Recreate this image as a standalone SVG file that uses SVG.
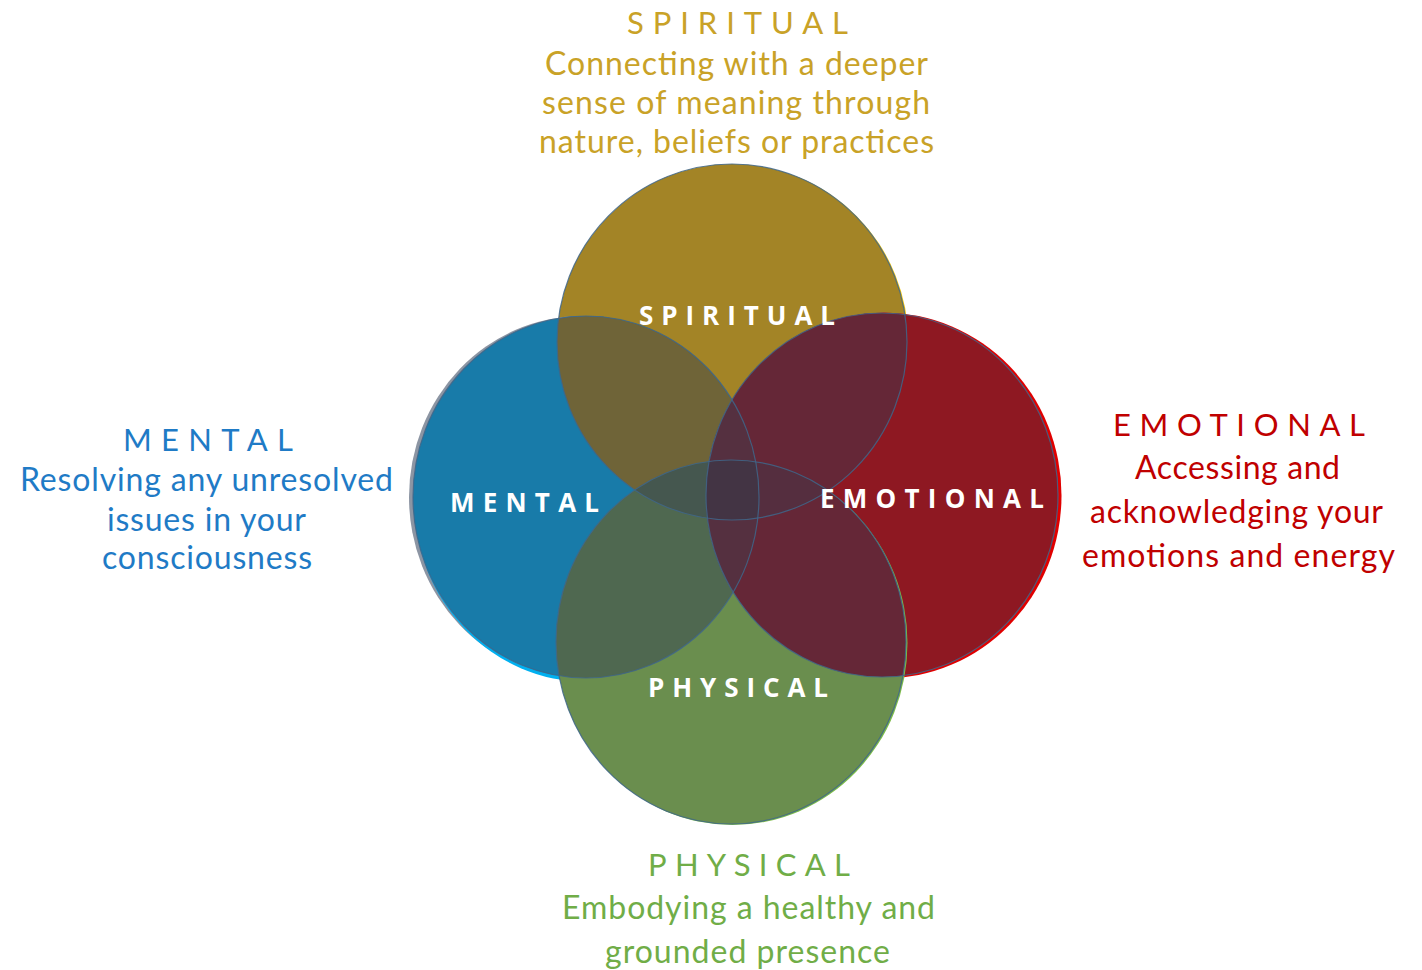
<svg xmlns="http://www.w3.org/2000/svg" width="1422" height="970" viewBox="0 0 1422 970">
  <style>
    .head { font-family: Lato, "Liberation Sans", sans-serif; font-size: 31px; font-weight: 400; }
    .body { font-family: Lato, "Liberation Sans", sans-serif; font-size: 32px; font-weight: 400; }
    .inner { font-family: "Open Sans", "Liberation Sans", sans-serif; font-size: 26px; font-weight: 700; fill: #ffffff; }
    .gold { fill: #C9A227; }
    .blue { fill: #1F7BC6; }
    .red { fill: #C00000; }
    .green { fill: #70AD47; }
    .rim { fill: none; stroke: #3F6689; stroke-width: 1.2; stroke-opacity: 0.85; }
  </style>
  <defs>
    <ellipse id="eS" cx="732" cy="342" rx="175" ry="178"/>
    <ellipse id="eM" cx="586" cy="497" rx="173" ry="181"/>
    <ellipse id="eE" cx="882" cy="495" rx="176" ry="182"/>
    <ellipse id="eP" cx="731" cy="642" rx="175" ry="182"/>
    <clipPath id="cS"><use href="#eS"/></clipPath>
    <clipPath id="cM"><use href="#eM"/></clipPath>
    <clipPath id="cE"><use href="#eE"/></clipPath>
    <clipPath id="cP"><use href="#eP"/></clipPath>
    <linearGradient id="topRule" x1="0" y1="0" x2="1" y2="0">
      <stop offset="0" stop-color="#2F8A3A"/>
      <stop offset="0.5" stop-color="#4CAF50"/>
      <stop offset="1" stop-color="#2F7D3A"/>
    </linearGradient>
  </defs>

  <!-- rule along the top edge -->
  <line x1="5" y1="1.5" x2="1422" y2="1.5" stroke="url(#topRule)" stroke-width="2"/>

  <!-- base circles with their coloured rims -->
  <g id="node-spiritual">
    <ellipse cx="733.5" cy="342.5" rx="175" ry="178" fill="#F2C200"/>
    <use href="#eS" fill="#A38426"/>
  </g>
  <g id="node-mental">
    <ellipse cx="582" cy="497" rx="173" ry="181" fill="#8C95A3"/>
    <ellipse cx="587" cy="501" rx="173" ry="181" fill="#00B0F0"/>
    <use href="#eM" fill="#187BA9"/>
  </g>
  <g id="node-emotional">
    <ellipse cx="884" cy="495.5" rx="177.5" ry="183" fill="#E00000"/>
    <use href="#eE" fill="#8E1822"/>
  </g>
  <g id="node-physical">
    <ellipse cx="732.5" cy="643" rx="175" ry="182" fill="#7CBB48"/>
    <use href="#eP" fill="#6A8E4E"/>
  </g>

  <!-- overlap regions -->
  <g id="overlaps">
    <use href="#eM" fill="#6F6438" clip-path="url(#cS)"/>
    <use href="#eE" fill="#652737" clip-path="url(#cS)"/>
    <use href="#eP" fill="#4F6850" clip-path="url(#cM)"/>
    <use href="#eP" fill="#652737" clip-path="url(#cE)"/>
    <use href="#eE" fill="#553040" clip-path="url(#cM)"/>
    <g clip-path="url(#cS)"><use href="#eP" fill="#45574F" clip-path="url(#cM)"/></g>
    <g clip-path="url(#cS)"><use href="#eP" fill="#552E3F" clip-path="url(#cE)"/></g>
    <g clip-path="url(#cM)"><use href="#eE" fill="#553040" clip-path="url(#cS)"/></g>
    <g clip-path="url(#cM)"><use href="#eE" fill="#553040" clip-path="url(#cP)"/></g>
    <g clip-path="url(#cS)"><g clip-path="url(#cM)"><use href="#eE" fill="#433444" clip-path="url(#cP)"/></g></g>
  </g>

  <!-- circle outlines -->
  <g id="outlines">
    <use href="#eS" class="rim"/>
    <use href="#eM" class="rim"/>
    <use href="#eE" class="rim"/>
    <use href="#eP" class="rim"/>
  </g>

  <!-- labels inside the circles -->
  <g id="label-spiritual"><text class="inner" x="639" y="325" textLength="196">SPIRITUAL</text></g>
  <g id="label-mental"><text class="inner" x="450" y="512" textLength="149">MENTAL</text></g>
  <g id="label-emotional"><text class="inner" x="820" y="508" textLength="224">EMOTIONAL</text></g>
  <g id="label-physical"><text class="inner" x="648" y="697" textLength="180">PHYSICAL</text></g>

  <!-- descriptions around the diagram -->
  <g id="desc-spiritual">
    <text class="head gold" x="627" y="34" textLength="221">SPIRITUAL</text>
    <text class="body gold" x="545" y="75" textLength="383">Connecting with a deeper</text>
    <text class="body gold" x="542" y="114" textLength="388">sense of meaning through</text>
    <text class="body gold" x="539" y="153" textLength="395">nature, beliefs or practices</text>
  </g>
  <g id="desc-mental">
    <text class="head blue" x="123" y="451" textLength="170">MENTAL</text>
    <text class="body blue" x="20" y="491" textLength="373">Resolving any unresolved</text>
    <text class="body blue" x="107" y="531" textLength="199">issues in your</text>
    <text class="body blue" x="102" y="569" textLength="210">consciousness</text>
  </g>
  <g id="desc-emotional">
    <text class="head red" x="1113" y="436" textLength="252">EMOTIONAL</text>
    <text class="body red" x="1135" y="479" textLength="205">Accessing and</text>
    <text class="body red" x="1090" y="523" textLength="293">acknowledging your</text>
    <text class="body red" x="1082" y="567" textLength="313">emotions and energy</text>
  </g>
  <g id="desc-physical">
    <text class="head green" x="648" y="876" textLength="202">PHYSICAL</text>
    <text class="body green" x="562" y="919" textLength="373">Embodying a healthy and</text>
    <text class="body green" x="605" y="963" textLength="285">grounded presence</text>
  </g>
</svg>
